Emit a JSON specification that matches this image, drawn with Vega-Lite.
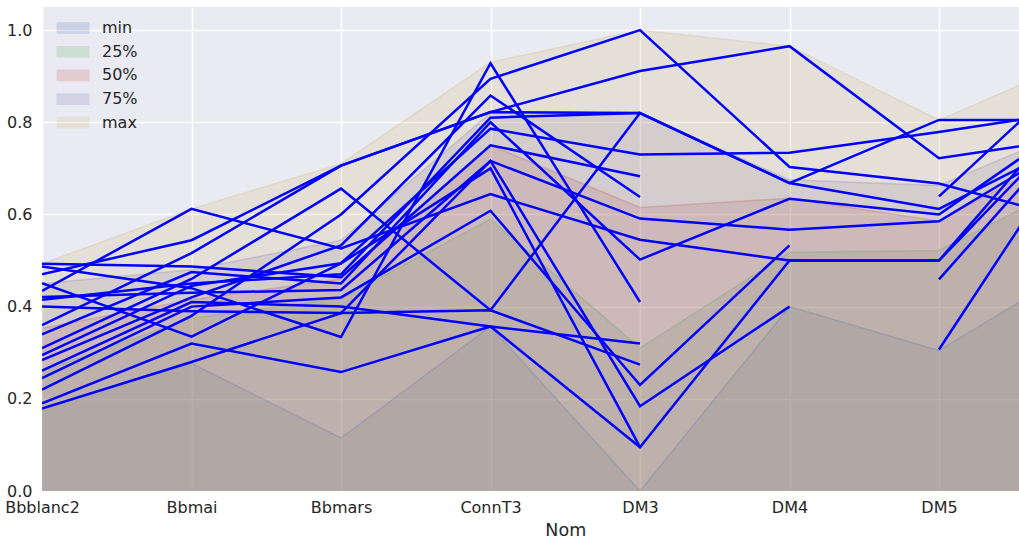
{
  "$schema": "https://vega.github.io/schema/vega-lite/v6.json",
  "width": 977,
  "height": 484,
  "autosize": "none",
  "padding": {"left": 42, "top": 7, "right": 0, "bottom": 52},
  "background": "white",
  "config": {
    "view": {"fill": "#EAEAF2", "stroke": null},
    "font": "DejaVu Sans",
    "axis": {
      "domain": false, "ticks": false, "gridColor": "white", "gridWidth": 1.5,
      "labelFont": "DejaVu Sans", "labelFontSize": 16, "labelColor": "#262626",
      "titleFont": "DejaVu Sans", "titleFontSize": 17.5, "titleColor": "#262626", "titleFontWeight": "normal"
    },
    "legend": {"labelFont": "DejaVu Sans", "labelFontSize": 16, "labelColor": "#262626"}
  },
  "datasets": {
    "stats": [
      {"stat": "min", "Nom": "Bbblanc2", "value": 0.18}, {"stat": "min", "Nom": "Bbmai", "value": 0.277}, {"stat": "min", "Nom": "Bbmars", "value": 0.115}, {"stat": "min", "Nom": "ConnT3", "value": 0.357}, {"stat": "min", "Nom": "DM3", "value": 0.0}, {"stat": "min", "Nom": "DM4", "value": 0.40}, {"stat": "min", "Nom": "DM5", "value": 0.305}, {"stat": "min", "Nom": "DM6", "value": 0.50},
      {"stat": "25%", "Nom": "Bbblanc2", "value": 0.26}, {"stat": "25%", "Nom": "Bbmai", "value": 0.375}, {"stat": "25%", "Nom": "Bbmars", "value": 0.418}, {"stat": "25%", "Nom": "ConnT3", "value": 0.59}, {"stat": "25%", "Nom": "DM3", "value": 0.31}, {"stat": "25%", "Nom": "DM4", "value": 0.518}, {"stat": "25%", "Nom": "DM5", "value": 0.522}, {"stat": "25%", "Nom": "DM6", "value": 0.685},
      {"stat": "50%", "Nom": "Bbblanc2", "value": 0.353}, {"stat": "50%", "Nom": "Bbmai", "value": 0.415}, {"stat": "50%", "Nom": "Bbmars", "value": 0.46}, {"stat": "50%", "Nom": "ConnT3", "value": 0.75}, {"stat": "50%", "Nom": "DM3", "value": 0.615}, {"stat": "50%", "Nom": "DM4", "value": 0.635}, {"stat": "50%", "Nom": "DM5", "value": 0.585}, {"stat": "50%", "Nom": "DM6", "value": 0.76},
      {"stat": "75%", "Nom": "Bbblanc2", "value": 0.45}, {"stat": "75%", "Nom": "Bbmai", "value": 0.48}, {"stat": "75%", "Nom": "Bbmars", "value": 0.544}, {"stat": "75%", "Nom": "ConnT3", "value": 0.82}, {"stat": "75%", "Nom": "DM3", "value": 0.82}, {"stat": "75%", "Nom": "DM4", "value": 0.675}, {"stat": "75%", "Nom": "DM5", "value": 0.663}, {"stat": "75%", "Nom": "DM6", "value": 0.80},
      {"stat": "max", "Nom": "Bbblanc2", "value": 0.493}, {"stat": "max", "Nom": "Bbmai", "value": 0.612}, {"stat": "max", "Nom": "Bbmars", "value": 0.71}, {"stat": "max", "Nom": "ConnT3", "value": 0.93}, {"stat": "max", "Nom": "DM3", "value": 1.0}, {"stat": "max", "Nom": "DM4", "value": 0.965}, {"stat": "max", "Nom": "DM5", "value": 0.805}, {"stat": "max", "Nom": "DM6", "value": 0.945}
    ],
    "lines": [
      {"id": "A", "Nom": "Bbblanc2", "value": 0.434}, {"id": "A", "Nom": "Bbmai", "value": 0.612}, {"id": "A", "Nom": "Bbmars", "value": 0.526}, {"id": "A", "Nom": "ConnT3", "value": 0.644}, {"id": "A", "Nom": "DM3", "value": 0.545}, {"id": "A", "Nom": "DM4", "value": 0.50}, {"id": "A", "Nom": "DM5", "value": 0.50}, {"id": "A", "Nom": "DM6", "value": 0.874},
      {"id": "B", "Nom": "Bbblanc2", "value": 0.47}, {"id": "B", "Nom": "Bbmai", "value": 0.544}, {"id": "B", "Nom": "Bbmars", "value": 0.706}, {"id": "B", "Nom": "ConnT3", "value": 0.822}, {"id": "B", "Nom": "DM3", "value": 0.911}, {"id": "B", "Nom": "DM4", "value": 0.965}, {"id": "B", "Nom": "DM5", "value": 0.722}, {"id": "B", "Nom": "DM6", "value": 0.77},
      {"id": "C", "Nom": "Bbblanc2", "value": 0.36}, {"id": "C", "Nom": "Bbmai", "value": 0.516}, {"id": "C", "Nom": "Bbmars", "value": 0.706}, {"id": "C", "Nom": "ConnT3", "value": 0.822}, {"id": "C", "Nom": "DM3", "value": 0.82}, {"id": "C", "Nom": "DM4", "value": 0.668}, {"id": "C", "Nom": "DM5", "value": 0.805}, {"id": "C", "Nom": "DM6", "value": 0.805},
      {"id": "D1", "Nom": "Bbblanc2", "value": 0.493}, {"id": "D1", "Nom": "Bbmai", "value": 0.487}, {"id": "D1", "Nom": "Bbmars", "value": 0.464}, {"id": "D1", "Nom": "ConnT3", "value": 0.75}, {"id": "D1", "Nom": "DM3", "value": 0.683}, {"id": "D2", "Nom": "DM5", "value": 0.459}, {"id": "D2", "Nom": "DM6", "value": 0.825},
      {"id": "E", "Nom": "Bbblanc2", "value": 0.34}, {"id": "E", "Nom": "Bbmai", "value": 0.475}, {"id": "E", "Nom": "Bbmars", "value": 0.45}, {"id": "E", "Nom": "ConnT3", "value": 0.80}, {"id": "E", "Nom": "DM3", "value": 0.502}, {"id": "E", "Nom": "DM4", "value": 0.634}, {"id": "E", "Nom": "DM5", "value": 0.60}, {"id": "E", "Nom": "DM6", "value": 0.824},
      {"id": "F", "Nom": "Bbblanc2", "value": 0.31}, {"id": "F", "Nom": "Bbmai", "value": 0.46}, {"id": "F", "Nom": "Bbmars", "value": 0.656}, {"id": "F", "Nom": "ConnT3", "value": 0.392}, {"id": "F", "Nom": "DM3", "value": 0.82}, {"id": "F", "Nom": "DM4", "value": 0.668}, {"id": "F", "Nom": "DM5", "value": 0.612}, {"id": "F", "Nom": "DM6", "value": 0.776},
      {"id": "G", "Nom": "Bbblanc2", "value": 0.295}, {"id": "G", "Nom": "Bbmai", "value": 0.445}, {"id": "G", "Nom": "Bbmars", "value": 0.494}, {"id": "G", "Nom": "ConnT3", "value": 0.786}, {"id": "G", "Nom": "DM3", "value": 0.73}, {"id": "G", "Nom": "DM4", "value": 0.734}, {"id": "G", "Nom": "DM5", "value": 0.779}, {"id": "G", "Nom": "DM6", "value": 0.828},
      {"id": "H", "Nom": "Bbblanc2", "value": 0.421}, {"id": "H", "Nom": "Bbmai", "value": 0.43}, {"id": "H", "Nom": "Bbmars", "value": 0.436}, {"id": "H", "Nom": "ConnT3", "value": 0.716}, {"id": "H", "Nom": "DM3", "value": 0.184}, {"id": "H", "Nom": "DM4", "value": 0.40},
      {"id": "I1", "Nom": "Bbblanc2", "value": 0.284}, {"id": "I1", "Nom": "Bbmai", "value": 0.42}, {"id": "I1", "Nom": "Bbmars", "value": 0.533}, {"id": "I1", "Nom": "ConnT3", "value": 0.858}, {"id": "I1", "Nom": "DM3", "value": 0.638}, {"id": "I2", "Nom": "DM5", "value": 0.639}, {"id": "I2", "Nom": "DM6", "value": 0.94},
      {"id": "J", "Nom": "Bbblanc2", "value": 0.261}, {"id": "J", "Nom": "Bbmai", "value": 0.41}, {"id": "J", "Nom": "Bbmars", "value": 0.40}, {"id": "J", "Nom": "ConnT3", "value": 0.357}, {"id": "J", "Nom": "DM3", "value": 0.32},
      {"id": "K", "Nom": "Bbblanc2", "value": 0.245}, {"id": "K", "Nom": "Bbmai", "value": 0.40}, {"id": "K", "Nom": "Bbmars", "value": 0.42}, {"id": "K", "Nom": "ConnT3", "value": 0.608}, {"id": "K", "Nom": "DM3", "value": 0.23}, {"id": "K", "Nom": "DM4", "value": 0.533},
      {"id": "L", "Nom": "Bbblanc2", "value": 0.40}, {"id": "L", "Nom": "Bbmai", "value": 0.39}, {"id": "L", "Nom": "Bbmars", "value": 0.386}, {"id": "L", "Nom": "ConnT3", "value": 0.392}, {"id": "L", "Nom": "DM3", "value": 0.274},
      {"id": "M", "Nom": "Bbblanc2", "value": 0.22}, {"id": "M", "Nom": "Bbmai", "value": 0.38}, {"id": "M", "Nom": "Bbmars", "value": 0.60}, {"id": "M", "Nom": "ConnT3", "value": 0.894}, {"id": "M", "Nom": "DM3", "value": 1.0}, {"id": "M", "Nom": "DM4", "value": 0.703}, {"id": "M", "Nom": "DM5", "value": 0.667}, {"id": "M", "Nom": "DM6", "value": 0.58},
      {"id": "N1", "Nom": "Bbblanc2", "value": 0.487}, {"id": "N1", "Nom": "Bbmai", "value": 0.44}, {"id": "N1", "Nom": "Bbmars", "value": 0.334}, {"id": "N1", "Nom": "ConnT3", "value": 0.928}, {"id": "N1", "Nom": "DM3", "value": 0.41}, {"id": "N2", "Nom": "DM5", "value": 0.307}, {"id": "N2", "Nom": "DM6", "value": 0.80},
      {"id": "O", "Nom": "Bbblanc2", "value": 0.19}, {"id": "O", "Nom": "Bbmai", "value": 0.32}, {"id": "O", "Nom": "Bbmars", "value": 0.258}, {"id": "O", "Nom": "ConnT3", "value": 0.357}, {"id": "O", "Nom": "DM3", "value": 0.095}, {"id": "O", "Nom": "DM4", "value": 0.50}, {"id": "O", "Nom": "DM5", "value": 0.50}, {"id": "O", "Nom": "DM6", "value": 0.836},
      {"id": "P", "Nom": "Bbblanc2", "value": 0.179}, {"id": "P", "Nom": "Bbmai", "value": 0.28}, {"id": "P", "Nom": "Bbmars", "value": 0.386}, {"id": "P", "Nom": "ConnT3", "value": 0.716}, {"id": "P", "Nom": "DM3", "value": 0.591}, {"id": "P", "Nom": "DM4", "value": 0.567}, {"id": "P", "Nom": "DM5", "value": 0.585}, {"id": "P", "Nom": "DM6", "value": 0.78},
      {"id": "Q", "Nom": "Bbblanc2", "value": 0.451}, {"id": "Q", "Nom": "Bbmai", "value": 0.335}, {"id": "Q", "Nom": "Bbmars", "value": 0.494}, {"id": "Q", "Nom": "ConnT3", "value": 0.70}, {"id": "Q", "Nom": "DM3", "value": 0.095},
      {"id": "R", "Nom": "Bbblanc2", "value": 0.415}, {"id": "R", "Nom": "Bbmai", "value": 0.45}, {"id": "R", "Nom": "Bbmars", "value": 0.47}, {"id": "R", "Nom": "ConnT3", "value": 0.81}, {"id": "R", "Nom": "DM3", "value": 0.82}
    ]
  },
  "encoding": {
    "x": {
      "field": "Nom", "type": "ordinal",
      "scale": {"type": "point", "padding": 0, "range": [0, 1046.5],
        "domain": ["Bbblanc2", "Bbmai", "Bbmars", "ConnT3", "DM3", "DM4", "DM5", "DM6"]},
      "axis": {"labelAngle": 0, "labelPadding": 8, "title": "Nom", "titlePadding": 6, "grid": true,
        "labelExpr": "datum.value == 'DM6' ? '' : datum.label"}
    },
    "y": {
      "field": "value", "type": "quantitative", "stack": null,
      "scale": {"domain": [0, 1.05], "nice": false, "zero": true},
      "axis": {"values": [0, 0.2, 0.4, 0.6, 0.8, 1.0], "format": ".1f", "title": null, "labelPadding": 10, "grid": true}
    }
  },
  "layer": [
    {
      "data": {"name": "stats"},
      "mark": {"type": "area", "clip": true, "opacity": 0.2, "line": {"strokeWidth": 1.5, "opacity": 0.25}},
      "encoding": {
        "color": {
          "field": "stat", "type": "nominal",
          "scale": {"domain": ["min", "25%", "50%", "75%", "max"], "range": ["#4C72B0", "#55A868", "#C44E52", "#8172B2", "#CCB974"]},
          "legend": {
            "title": null, "orient": "none", "legendX": 21, "legendY": 11, "padding": 0,
            "symbolType": "M-1.65,-0.58H1.65V0.58H-1.65Z", "symbolSize": 400, "symbolOpacity": 0.2,
            "symbolStrokeWidth": 0, "labelOffset": 19, "rowPadding": 5.7
          }
        },
        "order": {"field": "stat"}
      }
    },
    {
      "data": {"name": "lines"},
      "mark": {"type": "line", "clip": true, "color": "#0000FF", "strokeWidth": 2.5},
      "encoding": {"detail": {"field": "id", "type": "nominal"}}
    }
  ]
}
